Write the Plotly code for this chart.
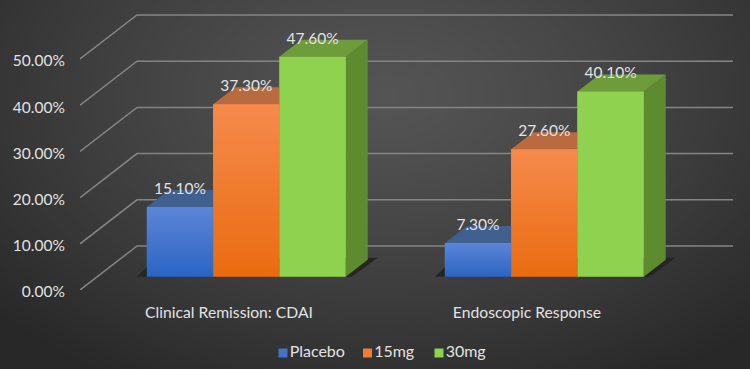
import numpy as np
import plotly.graph_objects as go

categories = ["Clinical Remission: CDAI", "Endoscopic Response"]
series_names = ["Placebo", "15mg", "30mg"]
placebo = [15.1, 7.3]
mg15 = [37.3, 27.6]
mg30 = [47.6, 40.1]
y_ticks = [0, 10, 20, 30, 40, 50]

W, H = 750, 369
PX_X = 298.0    # pixels per category
PX_Y = 4.62     # pixels per percentage point
X0, X1, Y0, YT = 80, 733, 290, 10

series_values = [placebo, mg15, mg30]
front_top = ["#5c86d6", "#f58a4c", "#8fd24f"]
front_bot = ["#2c64c4", "#ea6c10", "#8fd24f"]
top_col = ["#40608f", "#b96a3e", "#6f9c3b"]
side_col = ["#2f5190", "#b5591a", "#5e8a30"]
solid = ["#4472c4", "#f47c30", "#8fd24f"]
text_col = "#e2e2e2"
FONT = "Lato, Carlito, Calibri, sans-serif"

fig = go.Figure()

# ---- background (pixel axes) ----
gx = np.linspace(0, W, 76)
gy = np.linspace(0, H, 38)
xx, yy = np.meshgrid(gx, gy)
r = np.sqrt(((xx - 385) / 520) ** 2 + ((yy - 95) / 330) ** 2)
bg = 84 - 44 * np.clip(r, 0, 1) ** 1.25
fig.add_trace(go.Heatmap(x=gx, y=gy, z=bg, zmin=0, zmax=255, zsmooth="best", showscale=False,
                         colorscale=[[0, "#000000"], [1, "#ffffff"]], hoverinfo="skip", xaxis="x", yaxis="y"))

# ---- custom legend (pixel axes) ----
for name, col, lx in zip(series_names, solid, [283, 367.5, 439]):
    fig.add_trace(go.Scatter(x=[lx], y=[353], mode="markers+text", name=name, text=[name],
                             textposition="middle right", textfont=dict(family=FONT, size=16, color=text_col),
                             marker=dict(symbol="square", size=9, color=col), showlegend=False,
                             hoverinfo="skip", xaxis="x", yaxis="y"))

# ---- chart geometry in axis units ----
x_range = [0, (X1 - X0) / PX_X]
y_range = [0, (Y0 - YT) / PX_Y]
bar_w = 66.3 / PX_X
bar_dx, bar_base = 17.3 / PX_X, 13.3 / PX_Y
top_dx, top_dy = 22 / PX_X, 17 / PX_Y
wall_dx, wall_dy = 57 / PX_X, 44 / PX_Y


def poly(xs, ys, color=None, gradient=None):
    kw = dict(fillcolor=color) if gradient is None else dict(fillgradient=gradient)
    fig.add_trace(go.Scatter(x=xs + xs[:1], y=ys + ys[:1], mode="lines", fill="toself", line=dict(width=0),
                             showlegend=False, hoverinfo="skip", xaxis="x2", yaxis="y2", **kw))


# underlying real bars
for s, vals in enumerate(series_values):
    xs = [c + 0.5 + bar_dx + (s - 1) * bar_w for c in range(len(categories))]
    fig.add_trace(go.Bar(x=xs, y=vals, base=bar_base, width=bar_w, name=series_names[s],
                         marker=dict(color=solid[s], line=dict(width=0)), showlegend=False,
                         hoverinfo="skip", xaxis="x2", yaxis="y2"))

# gridlines on side and back wall
for t in y_ticks:
    fig.add_trace(go.Scatter(x=[0, wall_dx, x_range[1]], y=[t, t + wall_dy, t + wall_dy], mode="lines",
                             line=dict(color="#858585", width=1.5), showlegend=False, hoverinfo="skip",
                             xaxis="x2", yaxis="y2"))

# floor shadow + 3-D faces
for c in range(len(categories)):
    left = c + 0.5 + bar_dx - 1.5 * bar_w
    right = left + 3 * bar_w
    poly([left - 10 / PX_X, right + 6 / PX_X, right + 32 / PX_X, left + 10 / PX_X],
         [bar_base, bar_base, bar_base + 19 / PX_Y, bar_base + 19 / PX_Y], color="#252525")

for c in range(len(categories)):
    for s, vals in enumerate(series_values):
        v = vals[c]
        l = c + 0.5 + bar_dx + (s - 1.5) * bar_w
        r_ = l + bar_w
        b, t = bar_base, bar_base + v
        poly([r_, r_ + top_dx, r_ + top_dx, r_], [b, b + top_dy, t + top_dy, t], color=side_col[s])
        poly([l, r_, r_ + top_dx, l + top_dx], [t, t, t + top_dy, t + top_dy], color=top_col[s])
        poly([l, r_, r_, l], [b, b, t, t], gradient=dict(type="vertical",
             colorscale=[[0, front_bot[s]], [1, front_top[s]]]))

# value labels
for s, vals in enumerate(series_values):
    xs = [c + 0.5 + bar_dx + (s - 1) * bar_w for c in range(len(categories))]
    fig.add_trace(go.Scatter(x=xs, y=[v + bar_base + 17 / PX_Y for v in vals], mode="text",
                             text=[f"{v:.2f}%" for v in vals], textposition="middle center",
                             textfont=dict(family=FONT, size=15.5, color=text_col), showlegend=False,
                             hoverinfo="skip", cliponaxis=False, xaxis="x2", yaxis="y2"))

hidden = dict(visible=False, fixedrange=True, showgrid=False, zeroline=False, automargin=False)
fig.update_layout(
    width=W, height=H, margin=dict(l=0, r=0, t=0, b=0), showlegend=False,
    paper_bgcolor="#3c3c3c", plot_bgcolor="rgba(0,0,0,0)", barmode="overlay",
    xaxis=dict(domain=[0, 1], range=[0, W], **hidden),
    yaxis=dict(domain=[0, 1], range=[H, 0], **hidden),
    xaxis2=dict(domain=[X0 / W, X1 / W], range=x_range, anchor="y2", tickmode="array", automargin=False,
                tickvals=[c + 0.5 for c in range(len(categories))], ticktext=categories,
                tickfont=dict(family=FONT, size=15.7, color=text_col), ticks="outside", ticklen=8,
                tickcolor="rgba(0,0,0,0)", showgrid=False, zeroline=False, showline=False),
    yaxis2=dict(domain=[(H - Y0) / H, (H - YT) / H], range=y_range, anchor="x2", tickmode="array", automargin=False,
                tickvals=y_ticks, ticktext=[f"{t:.2f}%" for t in y_ticks], ticklabelshift=2,
                tickfont=dict(family=FONT, size=15.5, color=text_col), ticks="outside", ticklen=11,
                tickcolor="rgba(0,0,0,0)", showgrid=False, zeroline=False, showline=False),
)
fig.write_html("out.html", config=dict(displayModeBar=False),
               post_script="document.body.style.margin='0';document.body.style.overflow='hidden';")
